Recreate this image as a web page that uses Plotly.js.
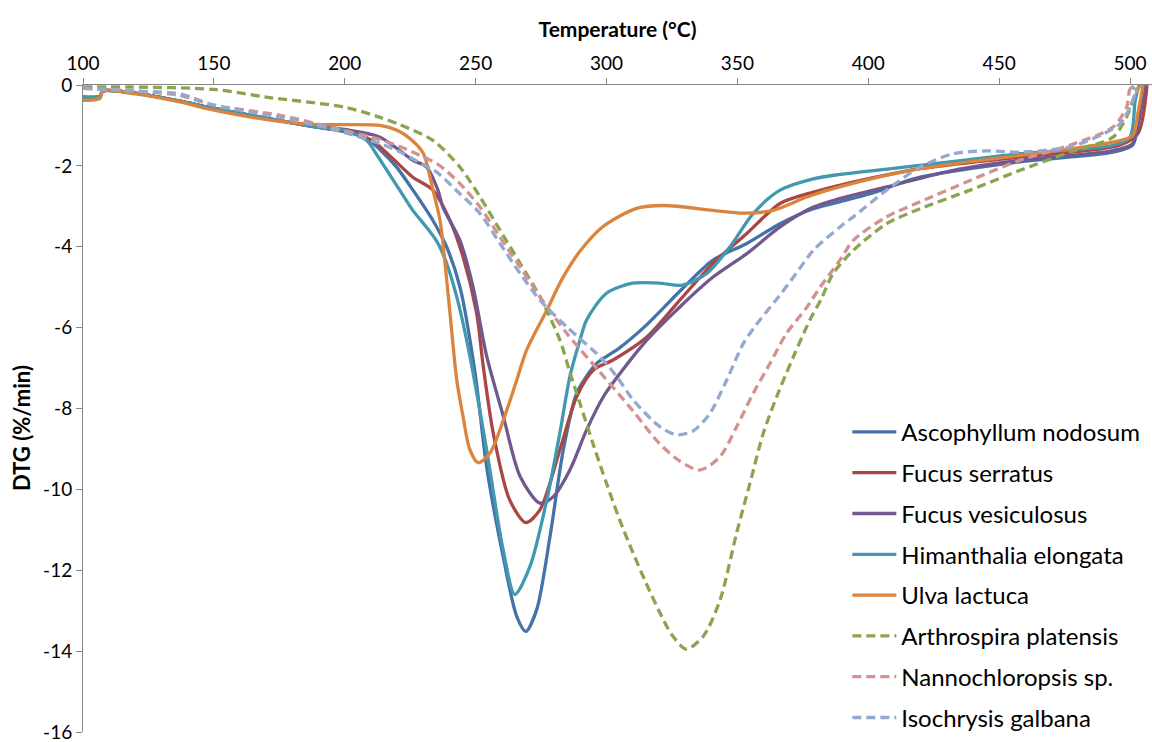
<!DOCTYPE html>
<html><head><meta charset="utf-8">
<script src="https://cdn.plot.ly/plotly-3.0.1.min.js"></script>
<style>html,body{margin:0;padding:0;background:#fff;}#chart{width:1152px;height:742px;}</style>
</head><body><div id="chart"></div>
<script>
// ---- data ----
const seriesNames = ["Ascophyllum nodosum","Fucus serratus","Fucus vesiculosus","Himanthalia elongata","Ulva lactuca","Arthrospira platensis","Nannochloropsis sp.","Isochrysis galbana"];

const ascoT = [100,106.5,107.5,120,137,150,175,190,200,208,213.5,219.8,225,228.7,233.7,238.9,244,249.8,254.2,260.5,265.7,269.2,273.3,278.4,283.5,288.6,292.4,296.3,305,315,328,340.7,353.6,366.3,379,389,400.7,419.8,458,493.5,501,503,505.5];
const ascoD = [-0.3,-0.28,-0.15,-0.2,-0.4,-0.58,-0.88,-1.05,-1.15,-1.3,-1.6,-2.03,-2.5,-2.85,-3.35,-4.0,-4.99,-7.12,-9.44,-11.66,-13.14,-13.51,-12.98,-11.17,-9.02,-7.62,-7.2,-6.88,-6.5,-5.95,-5.1,-4.33,-3.92,-3.43,-3.06,-2.89,-2.69,-2.28,-1.9,-1.66,-1.49,-0.95,0];

const serrT = [100,106.5,107.5,120,137,150,175,190,200,210,218,226,233.7,240.2,245.2,250.4,252.8,256.7,263,269.2,274.6,282.2,288.6,295,302.5,315.4,328,340.7,353.6,366.3,379,389,419.8,458,496,503,506.5];
const serrD = [-0.3,-0.28,-0.15,-0.2,-0.4,-0.58,-0.88,-1.05,-1.15,-1.35,-1.8,-2.28,-2.6,-3.35,-4.25,-5.65,-6.9,-8.6,-10.26,-10.82,-10.5,-9.02,-7.71,-7.05,-6.8,-6.23,-5.32,-4.41,-3.67,-2.93,-2.65,-2.48,-2.07,-1.78,-1.49,-1.2,0];

const vesiT = [100,106.5,107.5,120,137,150,175,190,200,213.5,226,231.3,235.6,237.5,244,249,254.2,260.6,267,274.6,279.7,286,292.4,298.8,305.2,315.4,328,340.7,353.6,366.3,379,389,407,432.5,458,493.5,501,503,506];
const vesiD = [-0.3,-0.28,-0.15,-0.2,-0.4,-0.58,-0.88,-1.02,-1.1,-1.29,-1.86,-2.03,-2.6,-3.02,-3.84,-4.99,-6.7,-8.2,-9.68,-10.34,-10.18,-9.52,-8.53,-7.71,-7.13,-6.31,-5.49,-4.75,-4.17,-3.51,-3.02,-2.81,-2.52,-2.11,-1.86,-1.62,-1.45,-1.0,0];

const himaT = [100,106.5,107.5,120,137,150,175,190,200,208.4,212,216,221,226,231,235,238,242.8,247.8,254.2,260.5,265,270.8,277.2,282.2,286,289.9,292.4,300,310,320,329,338.3,347.2,356,366.3,379,389.2,419.8,458,493.5,500,502,503.5];
const himaD = [-0.3,-0.28,-0.15,-0.2,-0.4,-0.58,-0.88,-1.05,-1.12,-1.37,-1.7,-2.1,-2.6,-3.1,-3.5,-3.85,-4.25,-5.24,-6.7,-9.02,-11.49,-12.6,-11.9,-10.26,-8.6,-7.21,-6.3,-5.81,-5.15,-4.9,-4.9,-4.95,-4.66,-4.0,-3.18,-2.6,-2.32,-2.21,-1.99,-1.7,-1.49,-1.29,-0.38,0];

const ulvaT = [100,106.5,107.5,120,137,150,175,190,200,213.5,220,225,230,233.7,236.4,238.3,240.2,242.8,245.2,247.8,251,255.5,261.9,265.7,269.5,277.2,283,290,298.7,311.5,322,340.7,352,363.6,376.5,389,419.8,458,493.5,501,503,505];
const ulvaD = [-0.38,-0.33,-0.15,-0.22,-0.42,-0.62,-0.9,-0.98,-0.98,-1.0,-1.12,-1.33,-1.69,-2.6,-3.35,-4.4,-5.64,-7.3,-8.2,-9.02,-9.34,-9.1,-8.04,-7.3,-6.55,-5.57,-4.8,-4.1,-3.5,-3.05,-2.98,-3.1,-3.17,-3.1,-2.77,-2.52,-2.07,-1.74,-1.41,-1.25,-0.7,0];

const arthT = [100,118,150,170,200,213.5,221,233.7,244,251.7,259.3,267,274.6,282.2,286,290,295,300,305,310,315,320.4,325,330.5,337,343.4,349.7,354.8,359.9,365,371.4,377.7,382,386.6,394.3,407,419.8,438.9,458,477,493.5,498.7,502.5,504];
const arthD = [-0.05,-0.05,-0.11,-0.3,-0.55,-0.8,-0.98,-1.37,-2.03,-2.77,-3.59,-4.41,-5.24,-6.31,-7.1,-7.9,-8.9,-9.85,-10.75,-11.55,-12.3,-13.05,-13.6,-13.95,-13.63,-12.73,-11.08,-9.85,-8.61,-7.71,-6.72,-5.81,-5.3,-4.66,-4.09,-3.43,-3.06,-2.6,-2.11,-1.66,-1.29,-0.79,-0.14,0];

const nannT = [100,120,137,150,175.3,194.4,213.5,221,228,236,244,251.7,259.3,267,274.6,284.8,297.5,310,320,328,335.7,343.4,349.7,356.1,362.5,368.8,376.5,381.6,389.2,394.3,407,419.8,438.9,458,477,493.5,498.7,500,501.5,503];
const nannD = [-0.08,-0.15,-0.26,-0.5,-0.75,-1.04,-1.35,-1.52,-1.72,-1.98,-2.44,-3.02,-3.76,-4.5,-5.24,-6.14,-7.1,-8.05,-8.85,-9.3,-9.52,-9.19,-8.45,-7.62,-6.88,-6.14,-5.5,-5.0,-4.33,-3.84,-3.26,-2.89,-2.36,-1.86,-1.49,-1.04,-0.55,-0.1,-0.03,-0.2];

const isocT = [100,120,137,150,175.3,194.4,213.5,221,228,235,244,251.7,259.3,267,274.6,284.8,297.5,303.9,310.2,320.4,326.8,333.2,339.5,345.9,352.3,358.6,365,372,379,389.2,394.3,407,419.8,432.5,445.3,458,477,489.8,496.2,500,502,500.5];
const isocD = [-0.08,-0.15,-0.22,-0.5,-0.8,-1.08,-1.45,-1.65,-1.9,-2.15,-2.69,-3.18,-3.92,-4.66,-5.32,-5.98,-6.72,-7.21,-7.79,-8.45,-8.65,-8.55,-8.12,-7.3,-6.39,-5.81,-5.3,-4.7,-4.09,-3.51,-3.26,-2.6,-2.03,-1.7,-1.63,-1.66,-1.53,-1.21,-0.96,-0.55,-0.14,-0.02];

const yTickVals = [0,-2,-4,-6,-8,-10,-12,-14,-16];
const yTickText = ["0","-2","-4","-6","-8","-10","-12","-14","-16"];

// ---- styling ----
const xs = [ascoT,serrT,vesiT,himaT,ulvaT,arthT,nannT,isocT];
const ys = [ascoD,serrD,vesiD,himaD,ulvaD,arthD,nannD,isocD];
const colors = ["#4572A7","#AA4643","#71588F","#4198AF","#DB843D","#89A54E","#D3918F","#93A9CF"];
const dashes = ["solid","solid","solid","solid","solid","9px,5px","9px,5px","9px,5px"];

const FONT = "Lato, 'Open Sans', sans-serif";
const traces = seriesNames.map((n,i)=>({
  x: xs[i], y: ys[i], name: n, type: "scatter", mode: "lines",
  legendgroup: "g"+i,
  line: {color: colors[i], width: 3.3, dash: dashes[i], shape: "spline", smoothing: 0.8}
}));

const layout = {
  width: 1152, height: 742,
  margin: {l: 83, r: 0, t: 85, b: 10, pad: 0},
  paper_bgcolor: "#fff", plot_bgcolor: "#fff",
  font: {family: FONT, size: 19, color: "#000"},
  showlegend: true,
  legend: {x: 0.715, y: 0.498, xanchor: "left", yanchor: "top", bgcolor: "rgba(0,0,0,0)",
           font: {family: FONT, size: 24, color: "#000"}, tracegroupgap: 6.6, itemwidth: 44},
  xaxis: {
    side: "top", range: [100, 508.4], tick0: 100, dtick: 50,
    showline: true, linecolor: "#868686", linewidth: 1,
    ticks: "outside", ticklen: 6, tickcolor: "#868686",
    showgrid: false, zeroline: false, ticklabeloverflow: "allow",
    tickfont: {family: FONT, size: 19, color: "#000"},
    title: {text: "Temperature (°C)", font: {family: FONT, size: 21, color: "#000", weight: "bold"}, standoff: 8}
  },
  yaxis: {
    range: [-16, 0], tickvals: yTickVals, ticktext: yTickText,
    showline: true, linecolor: "#868686", linewidth: 1,
    ticks: "outside", ticklen: 6, tickcolor: "#868686",
    showgrid: false, zeroline: false, ticklabeloverflow: "allow",
    tickfont: {family: FONT, size: 19, color: "#000"}
  },
  annotations: [{
    text: "DTG (%/min)", textangle: -90, xref: "paper", yref: "paper",
    x: -0.057, y: 0.47, xanchor: "center", yanchor: "middle", showarrow: false,
    font: {family: FONT, size: 22, color: "#000", weight: "bold"}
  }]
};
Plotly.newPlot("chart", traces, layout, {displayModeBar: false, staticPlot: true});
</script></body></html>
